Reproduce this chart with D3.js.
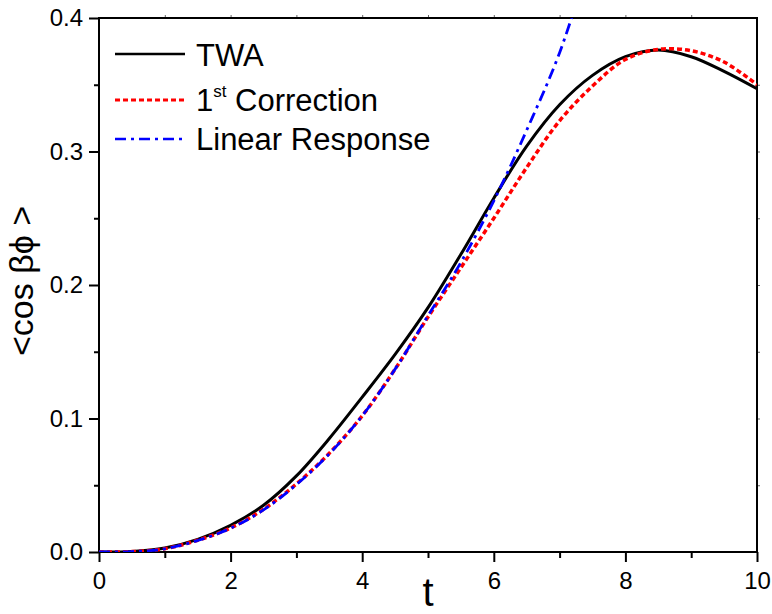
<!DOCTYPE html>
<html lang="en">
<head>
    <meta charset="utf-8">
    <title>cos beta phi vs t</title>
    <script src="https://d3js.org/d3.v7.min.js"></script>
    <style type="text/css">
        body
        {
            margin: 0;
            background-color: white;
        }
        svg
        {
            display: block;
            font-family: "Liberation Sans", Arial, sans-serif;
        }
    </style>
</head>
<body>
    <div id="chart_div"></div>
    <script>
    "use strict";
    // values
    var t_grid = [0, 0.5, 1, 1.5, 2, 2.5, 3, 3.5, 4, 4.5, 5, 5.5, 6, 6.5, 7, 7.5, 8, 8.5, 9, 9.5, 10];
    var twa = [0, 0.0004, 0.003, 0.0095, 0.020, 0.035, 0.057, 0.085, 0.116, 0.148, 0.183, 0.223, 0.265, 0.304, 0.335, 0.357, 0.371, 0.376, 0.371, 0.360, 0.347];
    var first_corr = [0, 0.0003, 0.0025, 0.0088, 0.018, 0.032, 0.051, 0.074, 0.102, 0.137, 0.176, 0.213, 0.250, 0.288, 0.323, 0.349, 0.369, 0.3765, 0.3755, 0.367, 0.350];
    var t_linear = [0, 0.5, 1, 1.5, 2, 2.5, 3, 3.5, 4, 4.5, 5, 5.5, 6, 6.5, 7, 7.5];
    var linear_resp = [0, 0.0003, 0.0024, 0.0086, 0.0178, 0.0315, 0.0505, 0.0735, 0.102, 0.137, 0.177, 0.217, 0.263, 0.316, 0.374, 0.45];
    var x_ticks = [0, 2, 4, 6, 8, 10];
    var y_ticks = [0.0, 0.1, 0.2, 0.3, 0.4];
    var legend_names = ["TWA", "1st Correction", "Linear Response"];

    var svg_width = 772;
    var svg_height = 614;
    var plot_left = 99, plot_right = 757, plot_top = 18, plot_bottom = 552;

    var svg = d3.select("#chart_div")
        .append("svg")
        .attr("width", svg_width)
        .attr("height", svg_height);

    var xscale = d3.scaleLinear().domain([0, 10]).range([plot_left, plot_right]);
    var yscale = d3.scaleLinear().domain([0, 0.4]).range([plot_bottom, plot_top]);

    svg.append("clipPath")
        .attr("id", "plot_clip")
        .append("rect")
        .attr("x", plot_left)
        .attr("y", plot_top)
        .attr("width", plot_right - plot_left)
        .attr("height", plot_bottom - plot_top);

    // axes: major outward ticks with minor ones in between
    function style_axis(g)
    {
        g.select(".domain").remove();
        g.selectAll("line").attr("stroke", "black").attr("stroke-width", 2);
        g.selectAll("text").attr("fill", "black").style("font-size", "24px");
    }
    var minor_x = d3.range(1, 10, 2);
    var minor_y = d3.range(0.05, 0.4, 0.1);

    svg.append("g")
        .attr("transform", "translate(0," + plot_bottom + ")")
        .call(d3.axisBottom(xscale).tickValues(minor_x).tickSize(6).tickFormat(""))
        .call(style_axis);
    svg.append("g")
        .attr("transform", "translate(0," + plot_bottom + ")")
        .call(d3.axisBottom(xscale).tickValues(x_ticks).tickSize(10).tickPadding(8).tickFormat(d3.format("d")))
        .call(style_axis)
        .selectAll("text").attr("dy", "0.78em");

    svg.append("g")
        .attr("transform", "translate(" + plot_left + ",0)")
        .call(d3.axisLeft(yscale).tickValues(minor_y).tickSize(5).tickFormat(""))
        .call(style_axis);
    svg.append("g")
        .attr("transform", "translate(" + plot_left + ",0)")
        .call(d3.axisLeft(yscale).tickValues(y_ticks).tickSize(10).tickPadding(6).tickFormat(d3.format(".1f")))
        .call(style_axis);

    // mirrored small ticks on top and right
    svg.append("g")
        .attr("transform", "translate(0," + plot_top + ")")
        .call(d3.axisTop(xscale).tickValues(d3.range(1, 10, 1)).tickSize(3).tickFormat(""))
        .call(style_axis)
        .selectAll("line").attr("stroke", "#666").attr("stroke-width", 1);
    svg.append("g")
        .attr("transform", "translate(" + plot_right + ",0)")
        .call(d3.axisRight(yscale).tickValues(d3.range(0.05, 0.4, 0.05)).tickSize(3).tickFormat(""))
        .call(style_axis)
        .selectAll("line").attr("stroke", "#666").attr("stroke-width", 1);

    svg.append("rect")
        .attr("x", plot_left)
        .attr("y", plot_top)
        .attr("width", plot_right - plot_left)
        .attr("height", plot_bottom - plot_top)
        .attr("fill", "none")
        .attr("stroke", "black")
        .attr("stroke-width", 2);

    var line = d3.line()
        .x(function(d) { return xscale(d[0]); })
        .y(function(d) { return yscale(d[1]); })
        .curve(d3.curveCatmullRom.alpha(0.5));

    var series = [
        { t: t_grid, v: twa, color: "black", width: 3, dash: null },
        { t: t_grid, v: first_corr, color: "#ff0000", width: 3.5, dash: "5,3" },
        { t: t_linear, v: linear_resp, color: "#0000ff", width: 2.8, dash: "11,5,3,5" }
    ];

    var plot = svg.append("g").attr("clip-path", "url(#plot_clip)");
    series.forEach(function(s)
    {
        plot.append("path")
            .datum(d3.zip(s.t, s.v))
            .attr("d", line)
            .attr("fill", "none")
            .attr("stroke", s.color)
            .attr("stroke-width", s.width)
            .attr("stroke-dasharray", s.dash);
    });

    // legend
    var legend_y = [54, 100, 139];
    series.forEach(function(s, i)
    {
        svg.append("line")
            .attr("x1", 115)
            .attr("x2", 185)
            .attr("y1", legend_y[i])
            .attr("y2", legend_y[i])
            .attr("stroke", s.color)
            .attr("stroke-width", s.width - 0.5)
            .attr("stroke-dasharray", s.dash);
    });
    svg.append("text").attr("x", 196).attr("y", 66).style("font-size", "31px").text(legend_names[0]);
    var t2 = svg.append("text").attr("x", 196).attr("y", 111).style("font-size", "31px");
    t2.append("tspan").text("1");
    t2.append("tspan").attr("dy", -14).style("font-size", "17px").text("st");
    t2.append("tspan").attr("dy", 14).text(" Correction");
    svg.append("text").attr("x", 196).attr("y", 150).style("font-size", "31px").text(legend_names[2]);

    // axis titles
    svg.append("text")
        .attr("transform", "translate(33,281) rotate(-90)")
        .attr("text-anchor", "middle")
        .style("font-size", "34px")
        .text("<cos \u03b2\u03d5 >");
    svg.append("text")
        .attr("x", (plot_left + plot_right) / 2)
        .attr("y", 606)
        .attr("text-anchor", "middle")
        .style("font-size", "40px")
        .text("t");
    </script>
</body>
</html>
